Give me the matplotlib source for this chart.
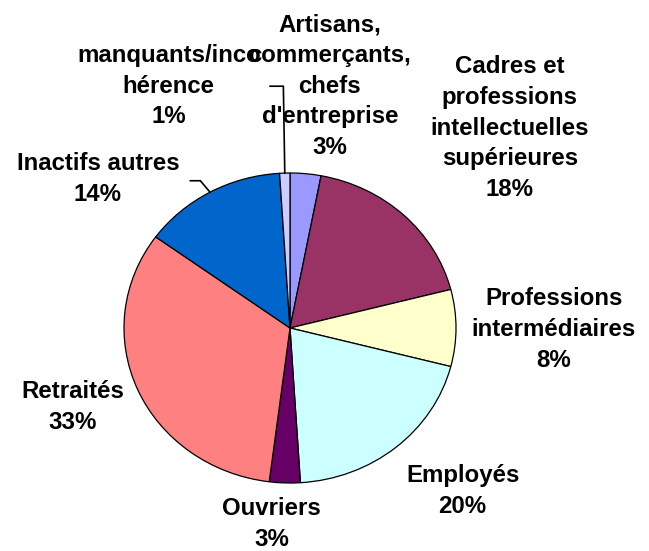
import numpy as np
import matplotlib
matplotlib.use("Agg")
import matplotlib.pyplot as plt

# parts of the population, clockwise from the top
categories = ["Artisans,\ncommerçants,\nchefs\nd'entreprise",
              "Cadres et\nprofessions\nintellectuelles\nsupérieures",
              "Professions\nintermédiaires",
              "Employés",
              "Ouvriers",
              "Retraités",
              "Inactifs autres",
              "manquants/inco\nhérence"]
values = [3, 18, 8, 20, 3, 33, 14, 1]
colors = ["#9999FF", "#993366", "#FFFFCC", "#CCFFFF",
          "#660066", "#FF8080", "#0066CC", "#CCCCFF"]

# where each label block sits (pie radius = 1)
label_pos = [(0.24, 1.56), (1.325, 1.29), (1.59, -0.01), (1.04, -1.05),
             (-0.11, -1.265), (-1.31, -0.51), (-1.157, 0.96), (-0.73, 1.56)]

plt.rcParams['font.family'] = ['Liberation Sans', 'DejaVu Sans']

fig = plt.figure(figsize=(6.49, 5.51), dpi=100)
ax = fig.add_axes([124 / 649, 68 / 551, 332 / 649, 310 / 551])

wedges, _ = ax.pie(values, colors=colors, startangle=90, counterclock=False,
                   radius=1, wedgeprops=dict(edgecolor="black", linewidth=0.9))
ax.set_aspect('auto')
ax.set_xlim(-1, 1)
ax.set_ylim(-1, 1)

total = sum(values)
for cat, v, (lx, ly) in zip(categories, values, label_pos):
    pct = round(100 * v / total)
    ax.text(lx, ly, "%s\n%d%%" % (cat, pct), ha="center", va="center",
            fontsize=17.3, fontweight="bold", linespacing=1.42, color="black")

# leader lines for the two small labels on the upper left
for i, elbow in [(7, [(-0.12, 1.56), (-0.04, 1.56)]), (6, [(-0.6, 0.95), (-0.54, 0.95)])]:
    w = wedges[i]
    mid = np.deg2rad((w.theta1 + w.theta2) / 2)
    ex, ey = np.cos(mid), np.sin(mid)
    xs = [p[0] for p in elbow] + [ex]
    ys = [p[1] for p in elbow] + [ey]
    ax.plot(xs, ys, color="black", linewidth=1.2, clip_on=False)

fig.savefig("out.png", dpi=100)
